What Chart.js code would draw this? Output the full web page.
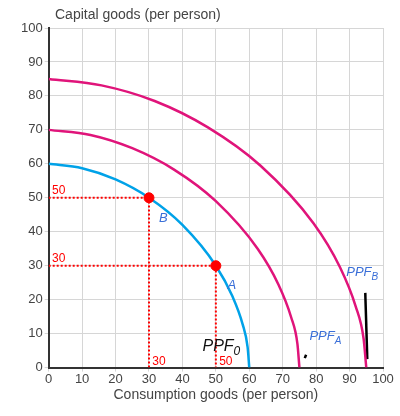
<!DOCTYPE html>
<html>
<head>
<script src="https://cdn.jsdelivr.net/npm/chart.js@4"></script>
<style>body{margin:0;background:#fff}#wrap{width:400px;height:416px}</style>
</head>
<body>
<div id="wrap"><canvas id="c"></canvas></div>
<script>
const ppf0X = [0, 10, 20, 30, 40, 50, 55, 58, 59.5, 60];
const ppf0Y = [60, 58.7, 55.4, 50, 42, 30, 20.9, 12.8, 6, 0];
const ppfAX = [0, 12.5, 25, 37.5, 50, 62.5, 68.75, 72.5, 74.4, 75];
const ppfAY = [70, 68.5, 64.6, 58.3, 49, 35, 24.4, 14.9, 7, 0];
const ppfBX = [0, 15.8, 31.7, 47.5, 63.3, 79.2, 87.1, 91.8, 94.2, 95];
const ppfBY = [85, 83.1, 78.5, 70.8, 59.5, 42.5, 29.6, 18.1, 8.5, 0];
const pointsX = [30, 50];
const pointsY = [50, 30];

function pts(xs, ys) { return xs.map(function(x, i) { return {x: x, y: ys[i]}; }); }

const red = '#ff0000';
const dotted = function(d) { return {data: d, showLine: true, borderColor: red, borderWidth: 2, borderDash: [2, 2], pointRadius: 0, fill: false}; };

const labelPlugin = {
    id: 'labels',
    afterDraw: function(chart) {
        const ctx = chart.ctx, xs = chart.scales.x, ys = chart.scales.y;
        function t(txt, x, y, color, font) {
            ctx.fillStyle = color; ctx.font = font; ctx.textAlign = 'left'; ctx.textBaseline = 'alphabetic';
            ctx.fillText(txt, xs.getPixelForValue(x), ys.getPixelForValue(y));
        }
        function sub(main, s, x, y, color, size) {
            const px = xs.getPixelForValue(x), py = ys.getPixelForValue(y);
            ctx.fillStyle = color; ctx.textAlign = 'left'; ctx.textBaseline = 'alphabetic';
            ctx.font = 'italic ' + size + 'px Arial';
            ctx.fillText(main, px, py);
            const w = ctx.measureText(main).width;
            ctx.font = 'italic ' + Math.round(size * 0.75) + 'px Arial';
            ctx.fillText(s, px + w, py + size * 0.3);
        }
        ctx.save();
        ctx.fillStyle = '#444'; ctx.font = '14px Arial'; ctx.textAlign = 'left';
        ctx.fillText('Capital goods (per person)', 55, 19);
        t('50', 1, 51.2, red, '12px Arial');
        t('30', 1, 31.2, red, '12px Arial');
        t('30', 31, 0.8, red, '12px Arial');
        t('50', 51, 0.8, red, '12px Arial');
        t('B', 33, 43, '#3a6fd8', 'italic 13px Arial');
        t('A', 53.5, 23, '#3a6fd8', 'italic 13px Arial');
        sub('PPF', '0', 46, 5, '#111', 16);
        sub('PPF', 'A', 78, 8, '#3a6fd8', 13);
        sub('PPF', 'B', 89, 27, '#3a6fd8', 13);
        ctx.restore();
    }
};

new Chart(document.getElementById('c'), {
    type: 'scatter',
    data: {
        datasets: [
            {data: pts(pointsX, pointsY), backgroundColor: red, borderColor: red, pointRadius: 5},
            dotted([{x: 0, y: 50}, {x: 30, y: 50}, {x: 30, y: 0}]),
            dotted([{x: 0, y: 30}, {x: 50, y: 30}, {x: 50, y: 0}]),
            {data: pts(ppf0X, ppf0Y), showLine: true, borderColor: '#00a2e8', borderWidth: 2.5, pointRadius: 0, cubicInterpolationMode: 'monotone'},
            {data: pts(ppfAX, ppfAY), showLine: true, borderColor: '#e0147a', borderWidth: 2.5, pointRadius: 0, cubicInterpolationMode: 'monotone'},
            {data: pts(ppfBX, ppfBY), showLine: true, borderColor: '#e0147a', borderWidth: 2.5, pointRadius: 0, cubicInterpolationMode: 'monotone'},
            {data: [{x: 94.7, y: 22}, {x: 95.3, y: 2.5}], showLine: true, borderColor: '#000', borderWidth: 2.5, pointRadius: 0},
            {data: [{x: 76.6, y: 2.8}, {x: 77, y: 3.8}], showLine: true, borderColor: '#000', borderWidth: 2.5, pointRadius: 0}
        ]
    },
    options: {
        responsive: true, maintainAspectRatio: false, animation: false,
        layout: {padding: {top: 28, right: 17, left: 19, bottom: 12}},
        plugins: {legend: {display: false}, tooltip: {enabled: false}},
        scales: {
            x: {min: 0, max: 100, ticks: {stepSize: 10, color: '#444', font: {size: 13, family: 'Arial'}, padding: 0},
                grid: {color: '#d6d6d6', tickLength: 4}, border: {color: '#333', width: 2},
                title: {display: true, text: 'Consumption goods (per person)', color: '#444', font: {size: 14, family: 'Arial'}, padding: 0}},
            y: {min: 0, max: 100, ticks: {stepSize: 10, color: '#444', font: {size: 13, family: 'Arial'}, padding: 2},
                grid: {color: '#d6d6d6', tickLength: 4}, border: {color: '#333', width: 2}}
        }
    },
    plugins: [labelPlugin]
});
</script>
</body>
</html>
